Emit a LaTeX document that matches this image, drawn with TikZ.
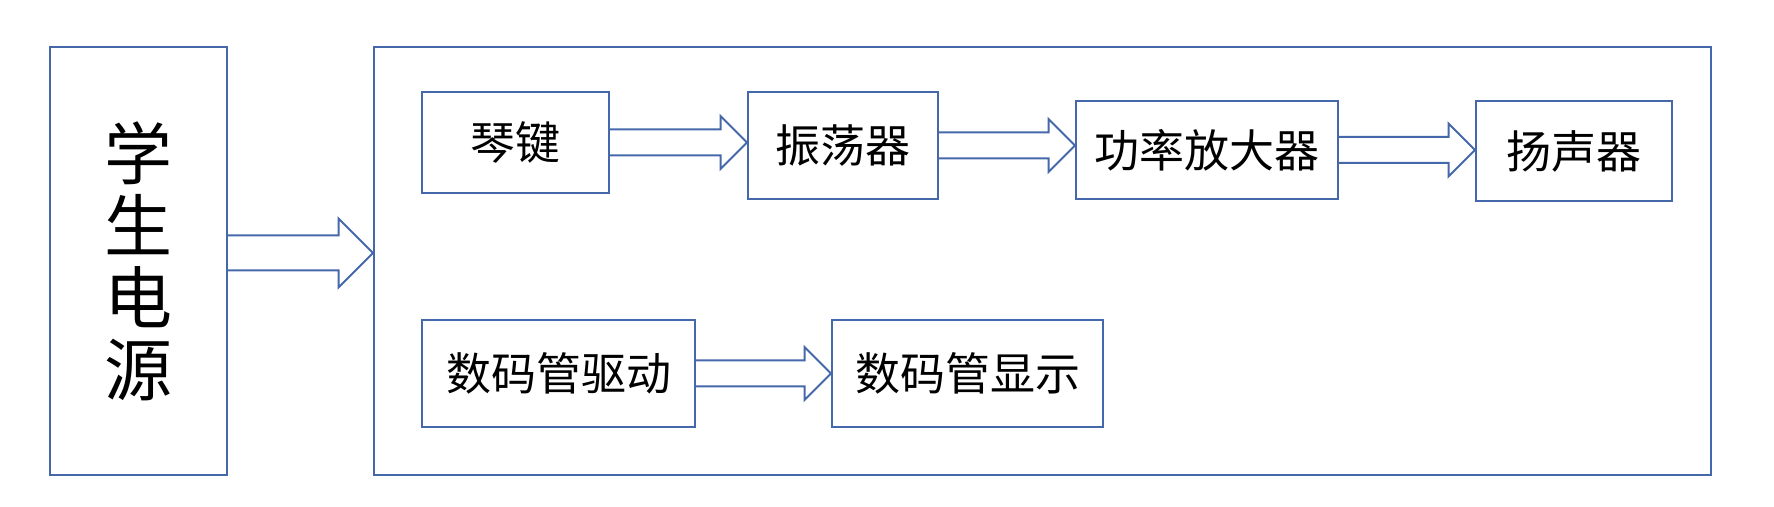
\documentclass[tikz,border=0pt]{standalone}
\usepackage{fontspec}
\setmainfont{Noto Sans CJK SC}
\usetikzlibrary{calc}

\definecolor{boxblue}{RGB}{68,104,170}

\tikzset{
    blockbox/.style={draw=boxblue, line width=1pt, rectangle, inner sep=0pt,
        font=\fontsize{22.5}{27}\selectfont},
    fatarr/.style={draw=boxblue, line width=1pt, line join=miter}
}

% hollow block arrow from the east side of #2 to the west side of #3
% #1 = vertical shift, #4 = half shaft width, #5 = half head width
\newcommand{\fatarrow}[5][0pt]{%
    \draw[fatarr] let \p1=($(#2.east)+(0,#1)$), \p2=(#3.west) in
        (\x1,\y1+#4) -- (\x2-#5,\y1+#4) -- (\x2-#5,\y1+#5) -- (\x2,\y1)
        -- (\x2-#5,\y1-#5) -- (\x2-#5,\y1-#4) -- (\x1,\y1-#4);
}

\begin{document}
\begin{tikzpicture}[x=0.5pt, y=-0.5pt]
        \useasboundingbox (0,0) rectangle (1774,507);

        % Power Section
        \node[blockbox, minimum width=88.5pt, minimum height=214pt, align=center,
            font=\fontsize{34}{36}\selectfont] (power) at (138.5,261) {学\\生\\电\\源};

        % Outer System Box
        \node[blockbox, minimum width=668.5pt, minimum height=214pt] (system) at (1042.5,261) {};
        \fatarrow[4pt]{power}{system}{8.75pt}{17.25pt} % Supply arrow

        % Sound Chain
        \node[blockbox, minimum width=93.5pt, minimum height=50.5pt] (keys) at (515.5,142.5) {琴键};
        \node[blockbox, minimum width=95pt, minimum height=53.5pt] (osc) at (843,145.5) {振荡器};
        \node[blockbox, minimum width=131pt, minimum height=49pt] (amp) at (1207,150) {功率放大器};
        \node[blockbox, minimum width=98pt, minimum height=50pt] (speaker) at (1574,151) {扬声器};
        \fatarrow{keys}{osc}{6.5pt}{13.25pt}
        \fatarrow{osc}{amp}{6.5pt}{13.25pt}
        \fatarrow{amp}{speaker}{6.5pt}{13.25pt}

        % Display Chain
        \node[blockbox, minimum width=136.5pt, minimum height=53.5pt] (driver) at (558.5,373.5) {数码管驱动};
        \node[blockbox, minimum width=135.5pt, minimum height=53.5pt] (display) at (967.5,373.5) {数码管显示};
        \fatarrow{driver}{display}{6.5pt}{13.25pt}
    \end{tikzpicture}
\end{document}
